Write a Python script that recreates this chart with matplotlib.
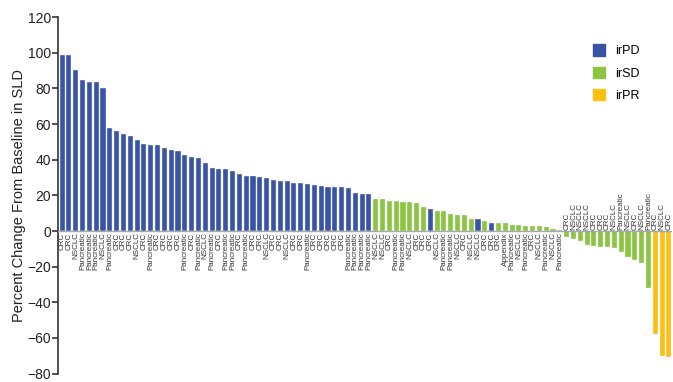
import matplotlib
matplotlib.use("Agg")
import matplotlib.pyplot as plt
from matplotlib.patches import Patch
import numpy as np

plt.rcParams['font.family'] = ['Liberation Sans', 'DejaVu Sans']

# tumour type under each bar, left to right
tumours = [
    "CRC", "CRC", "NSCLC", "Pancreatic", "Pancreatic", "Pancreatic", "NSCLC",
    "Pancreatic", "CRC", "CRC", "CRC", "NSCLC", "CRC", "Pancreatic", "CRC",
    "CRC", "CRC", "CRC", "Pancreatic", "CRC", "Pancreatic", "NSCLC",
    "Pancreatic", "CRC", "Pancreatic", "Pancreatic", "CRC", "Pancreatic",
    "CRC", "CRC", "NSCLC", "CRC", "CRC", "NSCLC", "CRC", "CRC", "Pancreatic",
    "CRC", "CRC", "CRC", "CRC", "CRC", "Pancreatic", "Pancreatic",
    "Pancreatic", "Pancreatic",
    "NSCLC", "NSCLC", "CRC", "Pancreatic", "Pancreatic", "NSCLC", "CRC", "CRC",
    "CRC", "NSCLC", "Pancreatic", "Pancreatic", "NSCLC", "CRC", "NSCLC",
    "NSCLC", "CRC", "CRC", "CRC", "Appendix", "Pancreatic", "NSCLC",
    "Pancreatic", "CRC", "NSCLC", "Pancreatic", "NSCLC", "Pancreatic",
    "CRC", "NSCLC", "NSCLC", "NSCLC", "CRC", "CRC", "CRC", "NSCLC",
    "Pancreatic", "NSCLC", "CRC", "NSCLC", "Pancreatic",
    "CRC", "NSCLC", "CRC",
]

# percent change from baseline in SLD
change = [
    98.7, 98.7, 90.3, 84.9, 83.4, 83.4, 80.3,
    57.7, 56.4, 54.2, 53.3, 51.2, 48.6, 48.2, 48.2,
    46.6, 45.6, 45.1, 42.6, 41.5, 40.8, 38.4,
    35.2, 34.8, 34.8, 33.5, 31.8, 31.1,
    31.1, 30.5, 29.6, 28.8, 28.3, 28.1, 26.8, 26.8, 26.6,
    26.0, 25.5, 24.9, 24.9, 24.6, 24.0, 21.6,
    20.8, 20.8,
    17.9, 17.7, 17.1, 17.1, 16.5, 16.4, 15.6, 13.7,
    12.1, 11.2, 11.0, 9.8, 8.9, 8.9, 7.0,
    6.7, 5.4, 4.6, 4.6, 4.5, 3.5, 3.5,
    3.1, 3.0, 2.8, 2.0, 1.3, 0.4,
    -3.4, -4.3, -5.6, -8.0, -8.6, -8.8, -8.8, -9.3,
    -11.7, -14.3, -16.0, -17.9, -32.2,
    -57.9, -70.4, -70.8,
]

# immune-related response per bar
response = (
    ["irPD"] * 46
    + ["irSD"] * 8 + ["irPD"] + ["irSD"] * 6 + ["irPD"] + ["irSD"]
    + ["irPD"] + ["irSD"] * 10
    + ["irSD"] * 13
    + ["irPR"] * 3
)

colours = {"irPD": "#3A54A4", "irSD": "#8DC540", "irPR": "#FDC010"}

fig = plt.figure(figsize=(6.73, 3.82), dpi=100)
ax = fig.add_axes([0.0862, 0.022, 0.9128, 0.933])

x = np.arange(len(change))
ax.bar(x, change, width=0.74, color=[colours[r] for r in response],
       edgecolor="#e8ecf4", linewidth=0.3, zorder=2)
ax.axhline(0, color="#a8a8a8", lw=1.0, zorder=3)

for xi, v, t in zip(x, change, tumours):
    if v >= 0:
        ax.text(xi, -0.8, t, rotation=90, ha="center", va="top",
                fontsize=5.8, color="#333333")
    else:
        ax.text(xi, 0.8, t, rotation=90, ha="center", va="bottom",
                fontsize=5.8, color="#333333")

ax.set_xlim(-0.6, 89.5)
ax.set_ylim(-80, 120)
ax.set_yticks(np.arange(-80, 121, 20))
ax.set_yticklabels(["\u221280", "\u221260", "\u221240", "\u221220", "0",
                    "20", "40", "60", "80", "100", "120"])
ax.set_xticks([])
for s in ["top", "right", "bottom"]:
    ax.spines[s].set_visible(False)
ax.spines["left"].set_color("#333333")
ax.spines["left"].set_linewidth(1.2)
ax.tick_params(axis="y", direction="out", length=4, width=1.2,
               color="#333333", labelsize=10, labelcolor="#222222", pad=1)
ax.set_ylabel("Percent Change From Baseline in SLD", fontsize=10.5,
              color="#222222", labelpad=1)

handles = [Patch(color=colours[k], label=k) for k in ["irPD", "irSD", "irPR"]]
ax.legend(handles=handles, loc="upper right", bbox_to_anchor=(0.965, 0.955),
          frameon=False, fontsize=9, handlelength=1.0, handleheight=1.0,
          labelspacing=0.75, handletextpad=0.8)

fig.savefig("out.png", dpi=100)
